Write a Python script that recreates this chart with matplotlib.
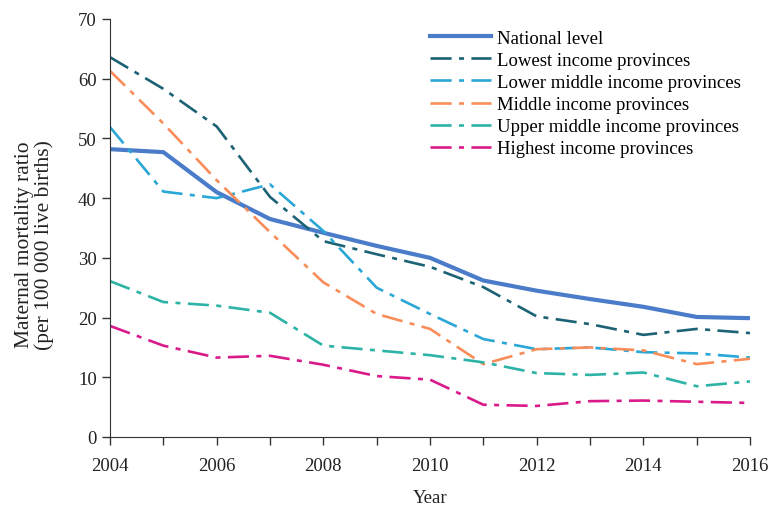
import matplotlib.pyplot as plt
import numpy as np

plt.rcParams['font.family'] = ['Liberation Serif', 'DejaVu Serif']

years = np.arange(2004, 2017)

national = [48.2, 47.7, 41.0, 36.5, 34.2, 32.0, 30.0, 26.2, 24.5, 23.1, 21.8, 20.1, 19.9]
lowest = [63.6, 58.3, 52.0, 40.2, 32.8, 30.6, 28.5, 25.1, 20.2, 18.9, 17.1, 18.1, 17.4]
lower_middle = [51.9, 41.1, 40.0, 42.3, 34.5, 25.0, 20.6, 16.4, 14.7, 15.0, 14.2, 14.0, 13.3]
middle = [61.3, 52.5, 43.0, 34.3, 25.9, 20.6, 18.1, 12.2, 14.7, 15.0, 14.5, 12.2, 13.1]
upper_middle = [26.1, 22.6, 22.0, 20.8, 15.3, 14.5, 13.7, 12.5, 10.7, 10.4, 10.8, 8.5, 9.3]
highest = [18.6, 15.3, 13.3, 13.6, 12.1, 10.2, 9.6, 5.4, 5.2, 6.0, 6.1, 5.9, 5.7]

labels = ['National level', 'Lowest income provinces', 'Lower middle income provinces',
          'Middle income provinces', 'Upper middle income provinces', 'Highest income provinces']
colors = ['#4a7cc9', '#1c6275', '#2aa7d6', '#f98d59', '#2db3a6', '#da1a8b']

fig = plt.figure(figsize=(7.71, 5.06), dpi=100)
ax = fig.add_axes([0.1427, 0.1344, 0.8301, 0.8261])

# long dash, short dash pattern used for the income groups
dashdot = (0, (8.0, 2.8, 1.9, 2.8))
ax.plot(years, national, color=colors[0], linewidth=3.0, label=labels[0])
for series, name, c in zip([lowest, lower_middle, middle, upper_middle, highest], labels[1:], colors[1:]):
    ax.plot(years, series, color=c, linewidth=1.9, linestyle=dashdot, label=name)

ax.set_xlim(2004, 2016)
ax.set_ylim(0, 70)
ax.set_xticks(years, minor=True)
ax.set_xticks(np.arange(2004, 2017, 2))
ax.set_yticks(np.arange(0, 71, 10))
ax.tick_params(which='both', direction='out', length=6, width=1, colors='#333333',
               labelsize=13.5, labelcolor='#222222')
ax.tick_params(axis='x', which='both', pad=8.5)
for side in ['top', 'right']:
    ax.spines[side].set_visible(False)
for side in ['left', 'bottom']:
    ax.spines[side].set_color('#333333')

ax.set_xlabel('Year', fontsize=13.5, color='#222222', labelpad=11)
ax.set_ylabel('Maternal mortality ratio\n(per 100 000 live births)', fontsize=15.5,
              color='#222222', linespacing=1.0)
ax.yaxis.set_label_coords(-0.088, 0.462)

ax.legend(loc='upper right', bbox_to_anchor=(1.004, 1.002), frameon=False, fontsize=13.5,
          handlelength=3.3, labelspacing=0.27, handletextpad=0.32, borderaxespad=0.2)

fig.savefig('out.png', dpi=100)
